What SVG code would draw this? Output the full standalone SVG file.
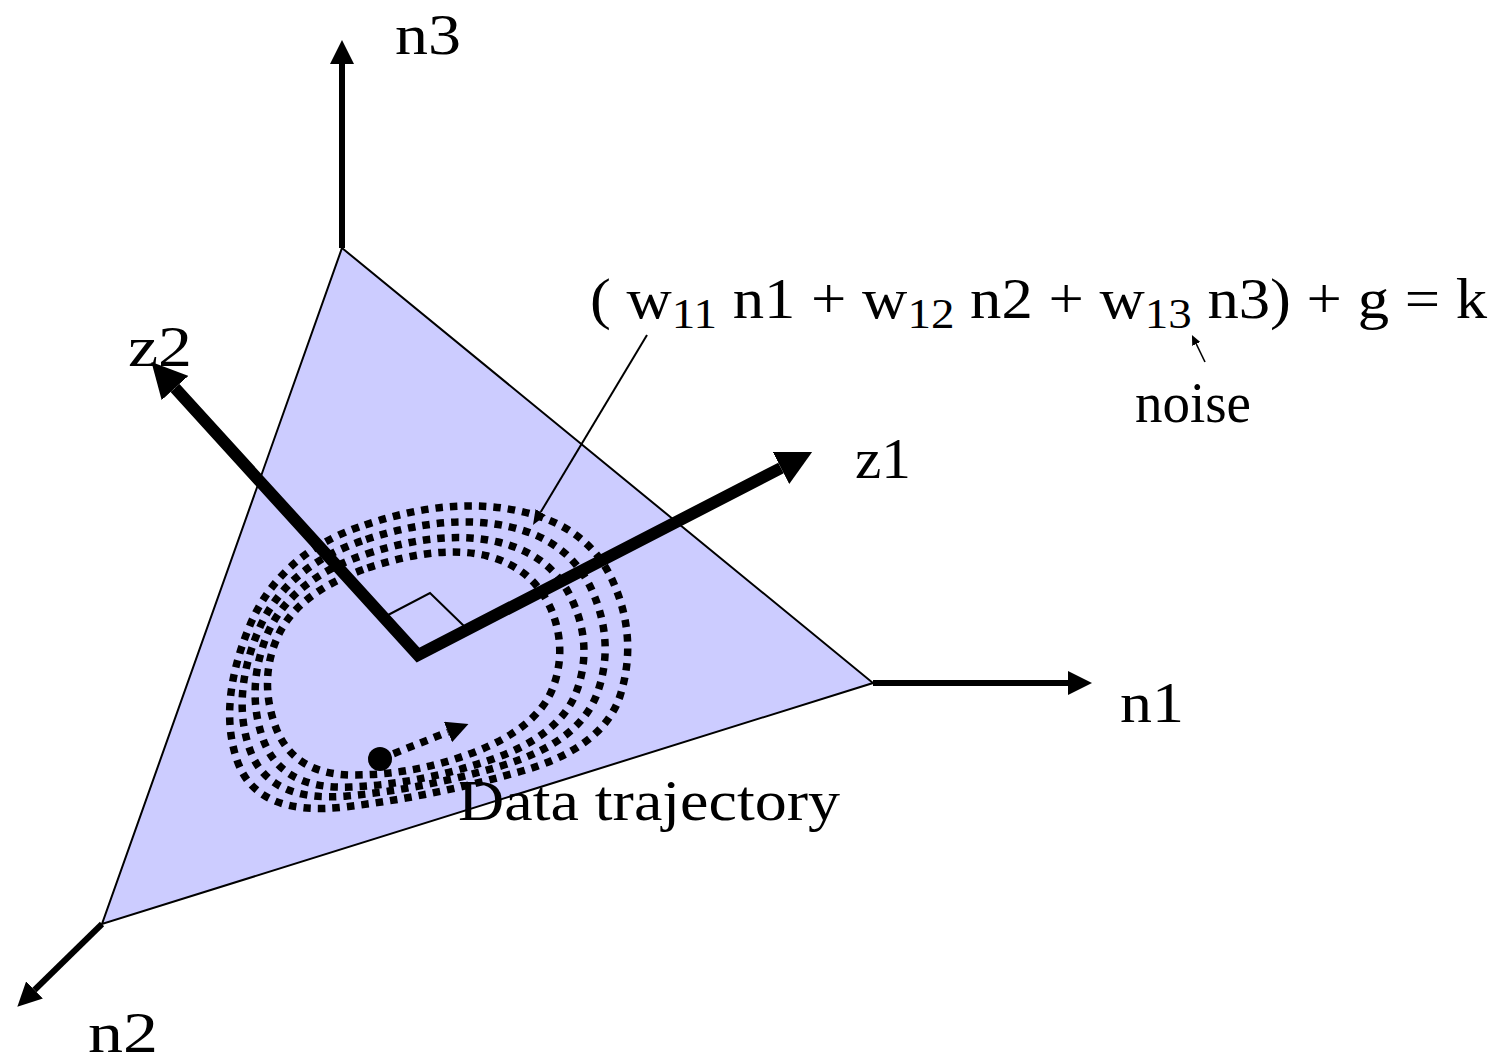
<svg xmlns="http://www.w3.org/2000/svg" width="1499" height="1063" viewBox="0 0 1499 1063">
<style>
.lbl{font-family:"Liberation Serif","Times New Roman",serif;font-size:56px;fill:#000}
.sub{font-size:42px}
.axis{stroke:#000;stroke-width:6;fill:none}
.zax{stroke:#000;stroke-width:12;fill:none;stroke-linejoin:miter;stroke-miterlimit:10}
.traj{stroke:#000;stroke-width:7.5;fill:none;stroke-dasharray:7.5 7}
.thin{stroke:#000;stroke-width:2;fill:none}
</style>
<defs>
<marker id="axHead" markerUnits="userSpaceOnUse" markerWidth="24" markerHeight="24" refX="0" refY="12" orient="auto-start-reverse" viewBox="0 0 24 24"><path d="M0,0 L24,12 L0,24 Z" fill="#000"/></marker>
<marker id="zHead" markerUnits="userSpaceOnUse" markerWidth="36" markerHeight="36" refX="0" refY="18" orient="auto-start-reverse" viewBox="0 0 36 36"><path d="M0,0 L35,18 L0,36 Z" fill="#000"/></marker>
<marker id="callHead" markerUnits="userSpaceOnUse" markerWidth="16" markerHeight="12" refX="0" refY="6" orient="auto" viewBox="0 0 16 12"><path d="M0,0 L15,6 L0,12 Z" fill="#000"/></marker>
<marker id="noiseHead" markerUnits="userSpaceOnUse" markerWidth="11" markerHeight="9" refX="0" refY="4.5" orient="auto" viewBox="0 0 11 9"><path d="M0,0 L10,4.5 L0,9 Z" fill="#000"/></marker>
<marker id="trajHead" markerUnits="userSpaceOnUse" markerWidth="23" markerHeight="22" refX="0" refY="11" orient="auto" viewBox="0 0 23 22"><path d="M0,0 L22,11 L0,22 Z" fill="#000"/></marker>
</defs>
<rect width="1499" height="1063" fill="#fff"/>
<g id="plane">
<polygon points="342,248 873,683 102,924" fill="#ccccff" stroke="#000" stroke-width="2"/>
</g>
<g id="trajectory">
<path class="traj" d="M365,525 Q450,496 519,511 Q590,526 614,584 Q638,640 620,696 Q602,750 515,773 Q430,797 344,807 Q256,817 237,760 Q218,705 248,630 Q278,553 365,525Z"/>
<path class="traj" d="M366,539.5 Q447,513 508.5,526.5 Q570,540 592.5,591.5 Q615,643 597.5,692.5 Q580,742 502.5,765.5 Q425,789 347,796 Q269,803 250,750 Q231,697 258,631.5 Q285,566 366,539.5Z"/>
<path class="traj" d="M366.5,554 Q443,529 498,542 Q553,555 573,602 Q593,647 576.5,691.5 Q560,736 490,760 Q420,784 350.5,787 Q281,790 263,739 Q245,688 268,632.5 Q292,579 366.5,554Z"/>
<path class="traj" d="M367.5,568 Q440,544 487.5,556 Q533,568 551,609 Q568,650 552,690 Q536,728 475,752 Q415,775 353.5,775 Q294,775 276,728 Q258,680 278,636 Q298,592 367.5,568Z"/>
<circle cx="380" cy="759" r="12" fill="#000"/>
</g>
<g id="connectors">
<line class="axis" x1="342" y1="248" x2="342" y2="64" marker-end="url(#axHead)"/>
<line class="axis" x1="873" y1="683" x2="1068" y2="683" marker-end="url(#axHead)"/>
<line class="axis" x1="102" y1="924" x2="34.5" y2="990" marker-end="url(#axHead)"/>
<polyline class="zax" points="175,388 418,655 781,468" marker-start="url(#zHead)" marker-end="url(#zHead)"/>
<polyline class="thin" points="388,615 430,593 465,627"/>
<line class="traj" x1="380" y1="759" x2="448" y2="732" marker-end="url(#trajHead)"/>
<line class="thin" x1="647" y1="335" x2="540.7" y2="512.1" marker-end="url(#callHead)"/>
<line stroke="#000" stroke-width="1.6" x1="1205" y1="362" x2="1196.3" y2="344" marker-end="url(#noiseHead)"/>
</g>
<g id="label-n3"><text class="lbl" x="395" y="54" textLength="66" lengthAdjust="spacingAndGlyphs">n3</text></g>
<g id="label-n1"><text class="lbl" x="1120" y="722" textLength="64" lengthAdjust="spacingAndGlyphs">n1</text></g>
<g id="label-n2"><text class="lbl" x="88" y="1052" textLength="70" lengthAdjust="spacingAndGlyphs">n2</text></g>
<g id="label-z1"><text class="lbl" x="855" y="478" textLength="56" lengthAdjust="spacingAndGlyphs">z1</text></g>
<g id="label-z2"><text class="lbl" x="128" y="366" textLength="64" lengthAdjust="spacingAndGlyphs">z2</text></g>
<g id="label-noise"><text class="lbl" x="1135" y="422" textLength="116" lengthAdjust="spacingAndGlyphs">noise</text></g>
<g id="label-data"><text class="lbl" x="458" y="820" textLength="382" lengthAdjust="spacingAndGlyphs">Data trajectory</text></g>
<g id="equation"><text class="lbl" x="590" y="318" textLength="897" lengthAdjust="spacingAndGlyphs">( w<tspan class="sub" dy="10">11</tspan><tspan dy="-10"> n1 + w</tspan><tspan class="sub" dy="10">12</tspan><tspan dy="-10"> n2 + w</tspan><tspan class="sub" dy="10">13</tspan><tspan dy="-10"> n3) + g = k</tspan></text></g>
</svg>
